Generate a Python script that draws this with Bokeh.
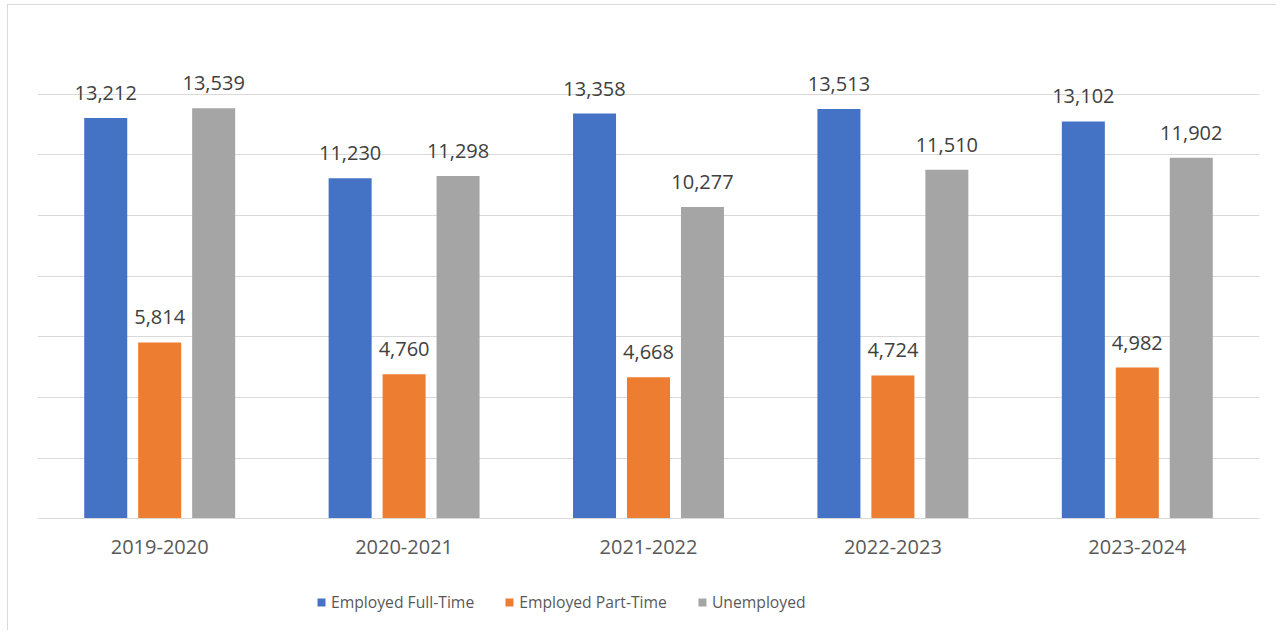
from bokeh.plotting import figure
from bokeh.models import ColumnDataSource, Legend, LegendItem, SingleIntervalTicker, LabelSet
from bokeh.transform import dodge
from bokeh.core.properties import value
from bokeh.embed import file_html
from bokeh.resources import INLINE

years = ["2019-2020", "2020-2021", "2021-2022", "2022-2023", "2023-2024"]
full_time = [13212, 11230, 13358, 13513, 13102]
part_time = [5814, 4760, 4668, 4724, 4982]
unemployed = [13539, 11298, 10277, 11510, 11902]
series_names = ["Employed Full-Time", "Employed Part-Time", "Unemployed"]
colors = ["#4472C4", "#ED7D31", "#A5A5A5"]

FONT = "Open Sans"
TXT = "#595959"

src = ColumnDataSource(dict(
    years=years, ft=full_time, pt=part_time, un=unemployed,
    ft_l=[f"{v:,}" for v in full_time],
    pt_l=[f"{v:,}" for v in part_time],
    un_l=[f"{v:,}" for v in unemployed],
))

p = figure(x_range=years, y_range=(-3720, 16000), width=1269, height=626,
           output_backend="svg", toolbar_location=None,
           min_border_left=29, min_border_right=18, min_border_top=28, min_border_bottom=0)
p.styles = {"border-top": "1px solid #D9D9D9", "border-left": "1px solid #D9D9D9",
            "box-sizing": "border-box", "margin-top": "4px", "margin-left": "7px"}
p.outline_line_color = None
p.background_fill_color = "white"
p.border_fill_color = "white"

offsets = [-0.2208, 0.0, 0.2208]
cols = ["ft", "pt", "un"]
renderers = []
for off, col, c in zip(offsets, cols, colors):
    r = p.vbar(x=dodge("years", off, range=p.x_range), top=col, width=0.176,
               source=src, fill_color=c, line_color=None)
    renderers.append(r)
    lbl = LabelSet(x=dodge("years", off, range=p.x_range), y=col, text=col + "_l",
                   source=src, text_align="center", text_baseline="alphabetic",
                   y_offset=18, text_font=value(FONT), text_font_size="20px",
                   text_color="#404040")
    p.add_layout(lbl)

p.yaxis.visible = False
p.yaxis.ticker = SingleIntervalTicker(interval=2000)
p.ygrid.ticker = SingleIntervalTicker(interval=2000)
p.ygrid.bounds = (0, 16000)
p.ygrid.grid_line_color = "#D9D9D9"
p.ygrid.grid_line_width = 1
p.xgrid.grid_line_color = None

p.xaxis.fixed_location = 0
p.xaxis.axis_line_color = "#D9D9D9"
p.xaxis.major_tick_line_color = None
p.xaxis.minor_tick_line_color = None
p.xaxis.major_label_text_font = FONT
p.xaxis.major_label_text_font_size = "20px"
p.xaxis.major_label_text_color = TXT
p.xaxis.major_label_standoff = 15

legend = Legend(items=[LegendItem(label=n, renderers=[r]) for n, r in zip(series_names, renderers)],
                orientation="horizontal", location=(279, 18),
                label_text_font=FONT, label_text_font_size="15.7px", label_text_color=TXT,
                glyph_width=10, glyph_height=10, label_standoff=5, spacing=30,
                border_line_color=None, background_fill_alpha=0, margin=0, padding=0)
p.add_layout(legend, "center")

open("out.html", "w").write(file_html(p, INLINE))
